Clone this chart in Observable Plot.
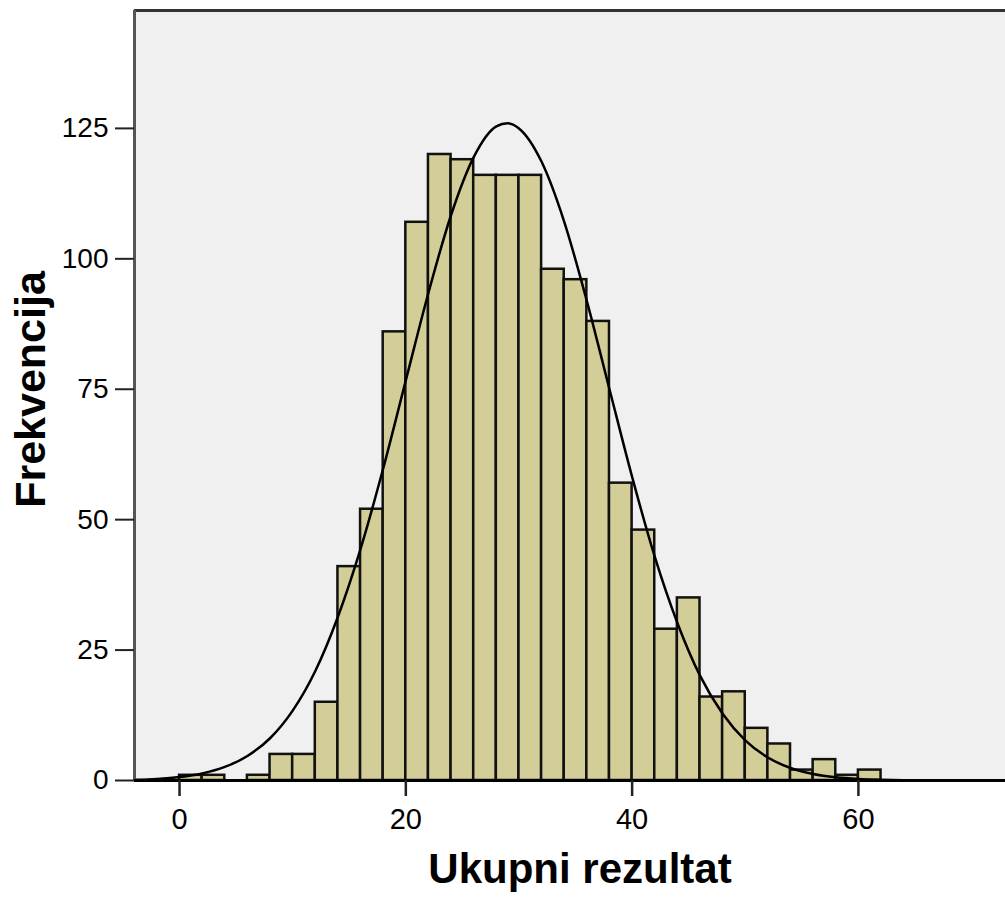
<!DOCTYPE html>
<html>
<head>
<meta charset="utf-8">
<script src="https://cdn.jsdelivr.net/npm/d3@7"></script>
<script src="https://cdn.jsdelivr.net/npm/@observablehq/plot@0.6"></script>
<style>
  html, body { margin: 0; padding: 0; background: #ffffff; }
  #chart svg { display: block; }
</style>
</head>
<body>
<div id="chart"></div>
<script>
// Histogram bins (lower edge, width 2) and frequencies
const binStarts = [0, 2, 6, 8, 10, 12, 14, 16, 18, 20, 22, 24, 26, 28, 30, 32, 34, 36, 38, 40, 42, 44, 46, 48, 50, 52, 54, 56, 58, 60];
const counts    = [1, 1, 1, 5, 5, 15, 41, 52, 86, 107, 120, 119, 116, 116, 116, 98, 96, 88, 57, 48, 29, 35, 16, 17, 10, 7, 2, 4, 1, 2];
const binWidth = 2;

// Fitted normal curve
const curveX = [-4, -2, 0, 2, 4, 6, 8, 10, 12, 14, 16, 18, 20, 22, 24, 26, 28, 29, 30, 32, 34, 36, 38, 40, 42, 44, 46, 48, 50, 52, 54, 56, 58, 60, 62, 64, 66, 70, 73];
const curveY = [0.14, 0.31, 0.67, 1.35, 2.6, 4.7, 8.1, 13.4, 21.0, 31.4, 44.4, 59.8, 76.7, 93.5, 108.4, 119.5, 125.4, 126.0, 125.0, 118.6, 107.1, 91.9, 75.0, 58.2, 42.9, 30.2, 20.1, 12.8, 7.7, 4.4, 2.4, 1.26, 0.62, 0.29, 0.13, 0.05, 0.02, 0, 0];

const xTicks = [0, 20, 40, 60];
const yTicks = [0, 25, 50, 75, 100, 125];
const xLabel = "Ukupni rezultat";
const yLabel = "Frekvencija";

const xDomain = [-3.98, 73.0];
const yDomain = [0, 147.6];

const bars = binStarts.map((s, i) => ({x1: s, x2: s + binWidth, y: counts[i]}));
const curve = curveX.map((x, i) => ({x, y: curveY[i]}));

const font = "'Liberation Sans', Arial, sans-serif";

const chart = Plot.plot({
  width: 1005,
  height: 897,
  marginLeft: 134,
  marginRight: 0,
  marginTop: 10,
  marginBottom: 117,
  style: {fontFamily: font, background: "#ffffff", color: "#000"},
  x: {domain: xDomain},
  y: {domain: yDomain},
  marks: [
    Plot.frame({fill: "#f0f0f0", stroke: "none"}),
    Plot.rectY(bars, {x1: "x1", x2: "x2", y: "y", fill: "#d3ce97", stroke: "#111", strokeWidth: 2.5, inset: 0}),
    Plot.line(curve, {x: "x", y: "y", stroke: "#000", strokeWidth: 2.5, curve: "monotone-x", clip: true}),
    Plot.ruleY([yDomain[1]], {stroke: "#333", strokeWidth: 3}),
    Plot.ruleX([xDomain[0]], {stroke: "#555", strokeWidth: 3}),
    Plot.ruleY([0], {stroke: "#000", strokeWidth: 3}),
    Plot.axisX({ticks: xTicks, tickSize: 16, tickPadding: 12, fontSize: 29, stroke: "#222", strokeWidth: 2.5, label: null, tickFormat: d => String(d)}),
    Plot.axisY({ticks: yTicks, tickSize: 19, tickPadding: 7, fontSize: 28, stroke: "#222", strokeWidth: 2, label: null, tickFormat: d => String(d)}),
    Plot.text([xLabel], {frameAnchor: "bottom", dx: 10, dy: 102, lineAnchor: "bottom", fontSize: 42, fontWeight: "bold", fill: "#000"}),
    Plot.text([yLabel], {frameAnchor: "left", textAnchor: "middle", dx: -103, dy: -6, rotate: -90, fontSize: 43, fontWeight: "bold", fill: "#000"})
  ]
});
document.getElementById("chart").appendChild(chart);
</script>
</body>
</html>
